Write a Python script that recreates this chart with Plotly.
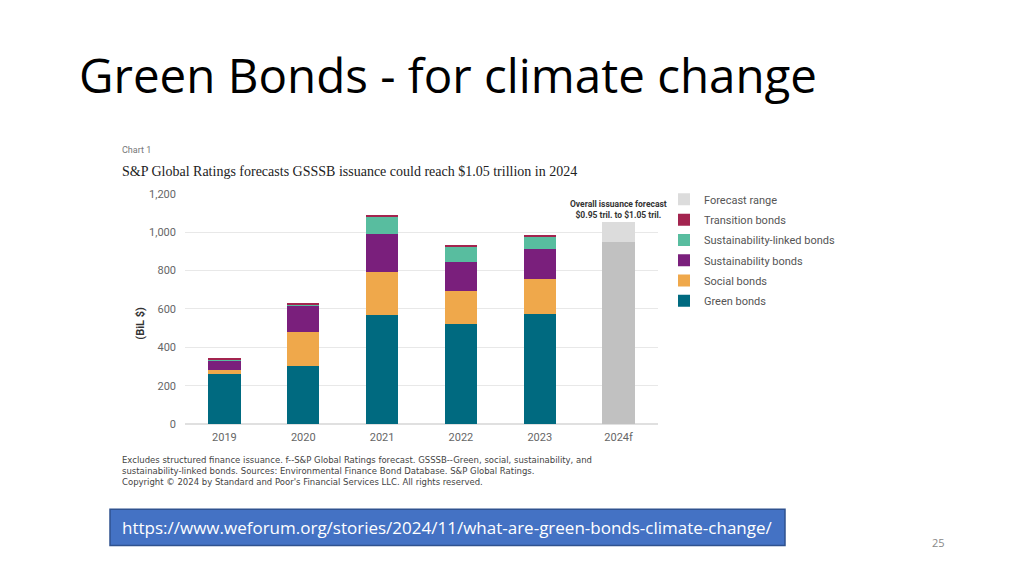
import plotly.graph_objects as go

years = ["2019", "2020", "2021", "2022", "2023", "2024f"]
green = [262, 305, 568, 522, 573, None]
social = [23, 173, 224, 173, 183, None]
sustainability = [50, 135, 198, 151, 156, None]
sustainability_linked = [6, 12, 95, 81, 68, None]
transition = [3, 4, 6, 4, 5, None]
forecast_base = [None, None, None, None, None, 950]
forecast_range = [None, None, None, None, None, 100]

W, H = 1024, 575
def px(x): return x / W
def py(y): return 1 - y / H

series = [
    ("Green bonds", green, "#006a80", True, 6),
    ("Social bonds", social, "#efa84b", True, 5),
    ("Sustainability bonds", sustainability, "#7a1f7c", True, 4),
    ("Sustainability-linked bonds", sustainability_linked, "#58bd9f", True, 3),
    ("Transition bonds", transition, "#a3244f", True, 2),
    ("Forecast", forecast_base, "#c1c1c1", False, 7),
    ("Forecast range", forecast_range, "#dcdcdc", True, 1),
]

fig = go.Figure()
for name, vals, color, show, rank in series:
    fig.add_trace(go.Bar(x=years, y=vals, name=name, legendgroup=name, legendrank=rank,
                         marker=dict(color=color, line=dict(width=0)), showlegend=show))

fig.update_layout(
    width=W, height=H, barmode="stack", bargap=0.59,
    margin=dict(l=0, r=0, t=0, b=0),
    paper_bgcolor="white", plot_bgcolor="white",
    font=dict(family="Roboto, sans-serif", color="#555555"),
    xaxis=dict(domain=[px(185), px(658)], showgrid=False, showline=False, ticks="",
               ticklabelstandoff=5, tickfont=dict(size=11, color="#666666"), anchor="y"),
    yaxis=dict(domain=[py(428), py(192)], range=[0, 1200], tickvals=[0, 200, 400, 600, 800, 1000, 1200],
               ticktext=["0", "200", "400", "600", "800", "1,000", "1,200"],
               showgrid=True, gridcolor="#e8e8e8", gridwidth=1, zeroline=True, zerolinecolor="#e0e0e0",
               showline=False, ticks="", ticklabelstandoff=8,
               tickfont=dict(size=11, color="#666666")),
    legend=dict(x=px(664), y=py(183), xanchor="left", yanchor="top", traceorder="grouped",
                font=dict(size=11, color="#555555"), itemwidth=30, tracegroupgap=1.3,
                bgcolor="rgba(0,0,0,0)"),
    showlegend=True,
)

annotations = [
    dict(text="Green Bonds - for climate change", x=px(77), y=py(70), xanchor="left", yanchor="middle",
         font=dict(family="Open Sans", size=47.5, color="#000000")),
    dict(text="Chart 1", x=px(120), y=py(147), xanchor="left", yanchor="middle",
         font=dict(family="Roboto", size=9, color="#777777")),
    dict(text="S&P Global Ratings forecasts GSSSB issuance could reach $1.05 trillion in 2024",
         x=px(120), y=py(169), xanchor="left", yanchor="middle",
         font=dict(family="Liberation Serif", size=14, color="#222222")),
    dict(text="<b>(BiL $)</b>", x=px(141), y=py(325), xanchor="center", yanchor="middle", textangle=-90,
         font=dict(family="Roboto", size=11, color="#333333")),
    dict(text="<b>Overall issuance forecast<br>$0.95 tril. to $1.05 tril.</b>", x=px(618), y=py(208),
         xanchor="center", yanchor="middle",
         font=dict(family="Roboto", size=8.5, color="#333333")),
    dict(text="Excludes structured finance issuance. f--S&P Global Ratings forecast. GSSSB--Green, social, sustainability, and<br>"
              "sustainability-linked bonds. Sources: Environmental Finance Bond Database. S&P Global Ratings.<br>"
              "Copyright © 2024 by Standard and Poor's Financial Services LLC. All rights reserved.",
         x=px(120), y=py(476), xanchor="left", yanchor="middle", align="left",
         font=dict(family="DejaVu Sans", size=8.5, color="#444444")),
    dict(text="https://www.weforum.org/stories/2024/11/what-are-green-bonds-climate-change/",
         x=px(447), y=py(534), xanchor="center", yanchor="middle",
         font=dict(family="Open Sans", size=17, color="white")),
    dict(text="25", x=px(938), y=py(549), xanchor="center", yanchor="middle",
         font=dict(family="Open Sans", size=11, color="#888888")),
]
for a in annotations:
    a.update(xref="paper", yref="paper", showarrow=False)
fig.update_layout(annotations=annotations)

fig.add_shape(type="rect", xref="paper", yref="paper", x0=px(110), x1=px(785), y0=py(552), y1=py(515),
              fillcolor="#4472c4", line=dict(color="#2f528f", width=1.5), layer="below")

fig.write_html("out.html", post_script="document.body.style.margin='0';", config={"displayModeBar": False})
